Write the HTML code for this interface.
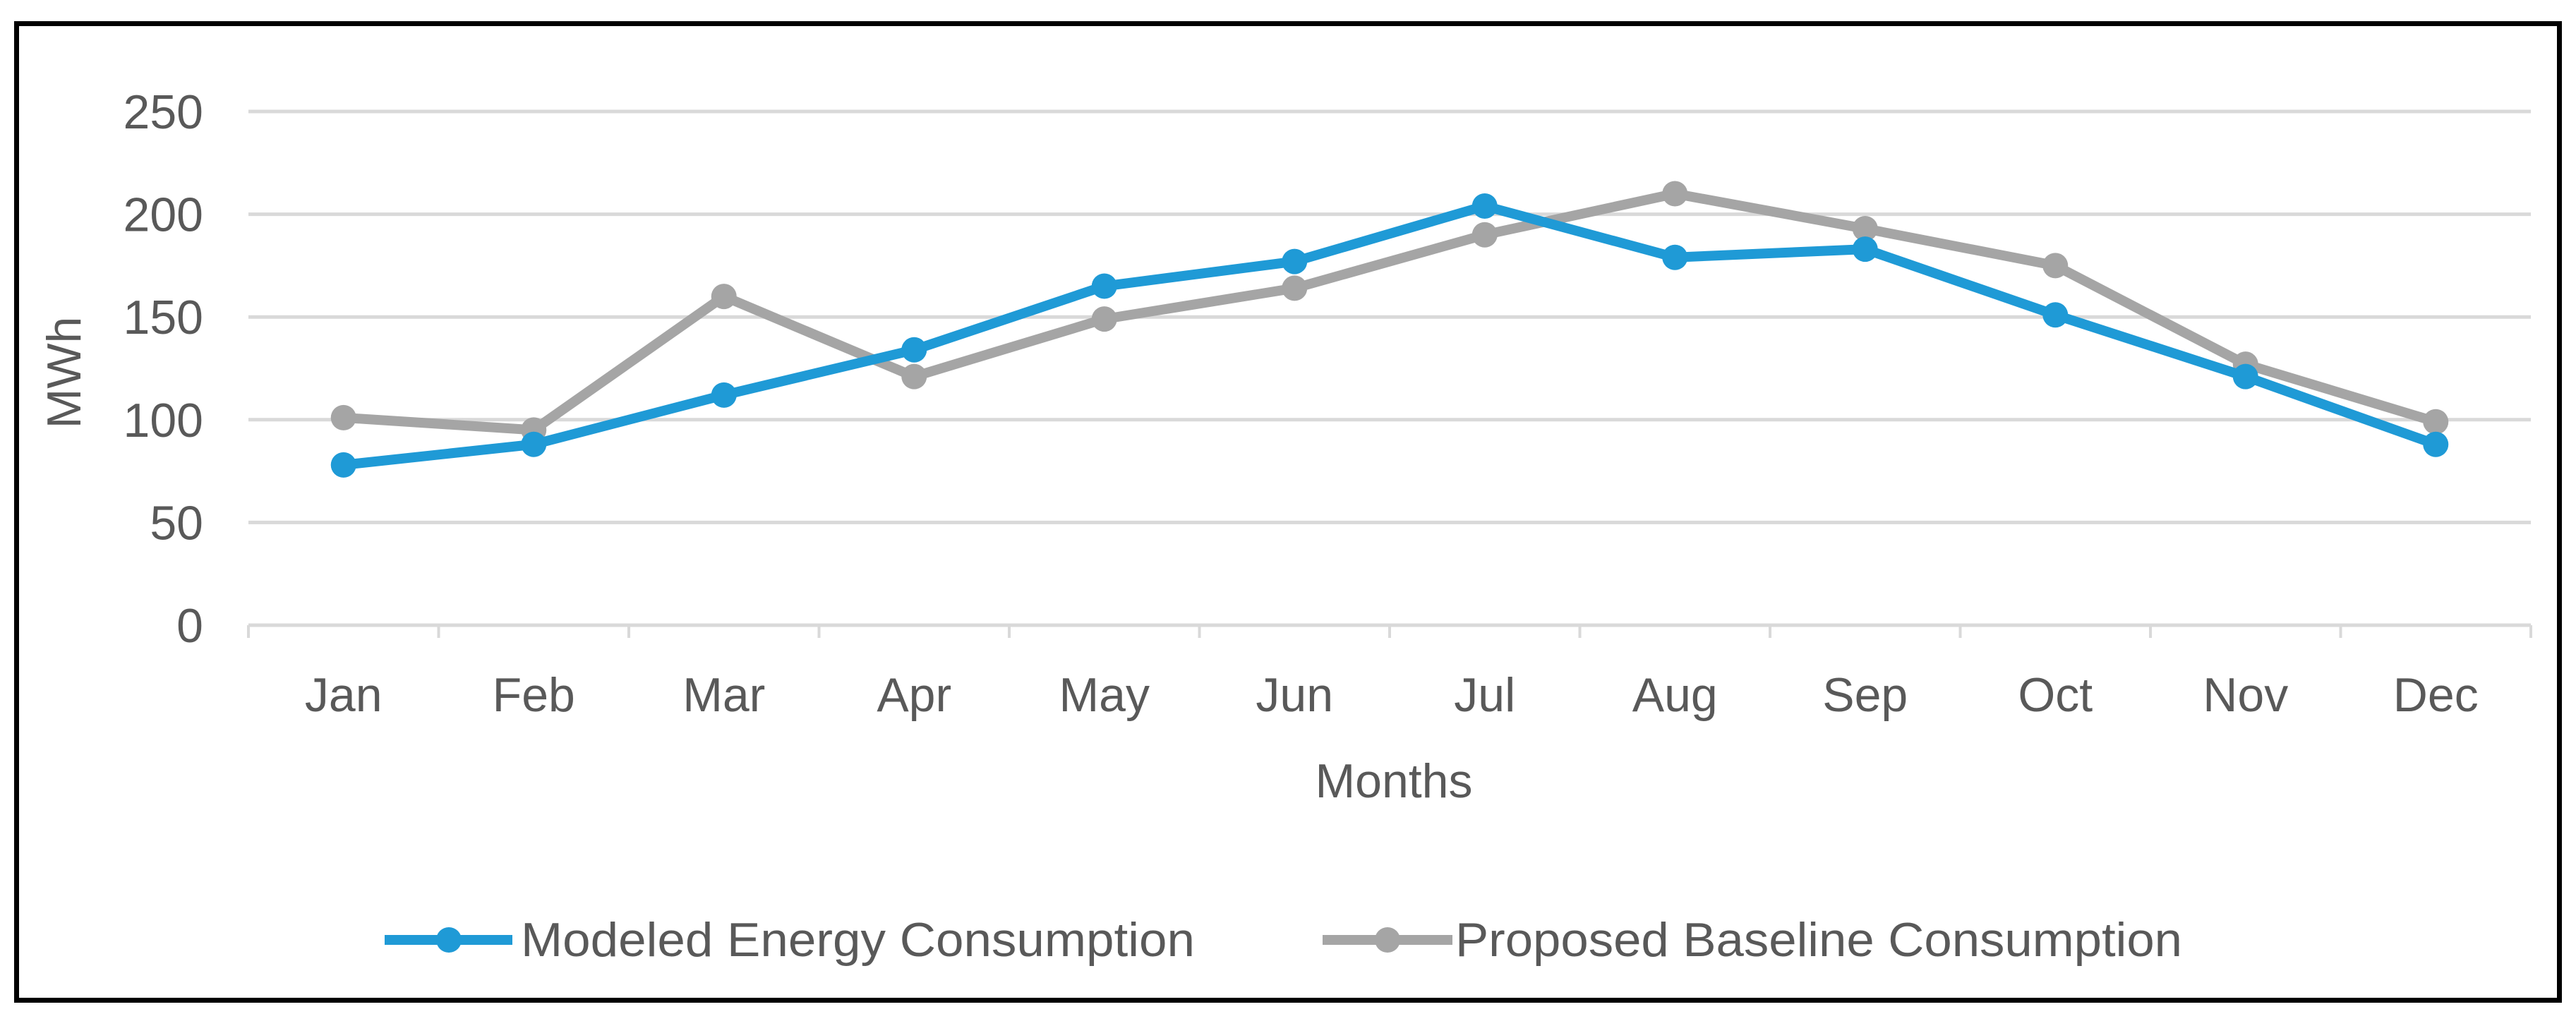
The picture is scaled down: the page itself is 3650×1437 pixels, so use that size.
<!DOCTYPE html>
<html><head><meta charset="utf-8"><style>
html,body{margin:0;padding:0;background:#fff;}
svg{display:block;}
text{font-family:"Liberation Sans",sans-serif;fill:#595959;}
</style></head><body>
<svg id="chart" width="3650" height="1437" viewBox="0 0 3650 1437">
<rect x="23.5" y="33.5" width="3603" height="1384" fill="#fff" stroke="#000" stroke-width="7"/>
<g id="grid"></g><g id="axes"></g><g id="series"></g>
<text transform="translate(114,528) rotate(-90)" text-anchor="middle" font-size="68">MWh</text>
<text x="1975" y="1130" text-anchor="middle" font-size="68">Months</text>
<g>
<g>
<line x1="545" y1="1332" x2="726" y2="1332" stroke="#1f9ad6" stroke-width="14"/>
<circle cx="636" cy="1332" r="18" fill="#1f9ad6"/>
<text x="738" y="1355" font-size="68" textLength="955" lengthAdjust="spacingAndGlyphs">Modeled Energy Consumption</text>
</g>
<g>
<line x1="1874" y1="1332" x2="2058" y2="1332" stroke="#a5a5a5" stroke-width="14"/>
<circle cx="1966" cy="1332" r="18" fill="#a5a5a5"/>
<text x="2062" y="1355" font-size="68" textLength="1030" lengthAdjust="spacingAndGlyphs">Proposed Baseline Consumption</text>
</g>
</g>
</svg>
<script>
const categories = ["Jan","Feb","Mar","Apr","May","Jun","Jul","Aug","Sep","Oct","Nov","Dec"];
const modeled = [78, 88, 112, 134, 165, 177, 204, 179, 183, 151, 121, 88];
const baseline = [101, 95, 160, 121, 149, 164, 190, 210, 193, 175, 127, 99];
const yTicks = [0, 50, 100, 150, 200, 250];

const NS = "http://www.w3.org/2000/svg";
const X0 = 352, X1 = 3586, Y0 = 886, Y250 = 158;
const band = (X1 - X0) / categories.length;
const xPos = i => X0 + band * (i + 0.5);
const yPos = v => Y0 - (v / 250) * (Y0 - Y250);
function mk(tag, attrs, parent){const e=document.createElementNS(NS,tag);for(const k in attrs)e.setAttribute(k,attrs[k]);parent.appendChild(e);return e;}
const grid=document.getElementById('grid'), axes=document.getElementById('axes'), ser=document.getElementById('series');
yTicks.forEach(v=>{
  const y=yPos(v);
  if(v>0){const l=mk('line',{x1:X0,x2:X1,y1:y,y2:y,stroke:'#d9d9d9','stroke-width':5},grid);
    
    }
  const t=mk('text',{x:288,y:y+24,'text-anchor':'end','font-size':68},axes);
  t.textContent=v;
  
  
});
const ax=mk('line',{x1:X0,x2:X1,y1:Y0,y2:Y0,stroke:'#d9d9d9','stroke-width':5},axes);


for(let i=0;i<=categories.length;i++){
  const x=X0+band*i;
  const tk=mk('line',{x1:x,x2:x,y1:Y0,y2:Y0+18,stroke:'#d9d9d9','stroke-width':4},axes);
  
  
}
categories.forEach((c,i)=>{
  const t=mk('text',{x:xPos(i),y:1008,'text-anchor':'middle','font-size':68},axes);
  t.textContent=c;
  
  
});
function drawSeries(vals,color,name){
  const g=mk('g',{},ser);
  
  
  const pl=mk('polyline',{points:vals.map((v,i)=>xPos(i)+','+yPos(v)).join(' '),fill:'none',stroke:color,'stroke-width':14,'stroke-linejoin':'round'},g);
  
  
  vals.forEach((v,i)=>{
    const c=mk('circle',{cx:xPos(i),cy:yPos(v),r:18,fill:color},g);
    
    
  });
}
drawSeries(baseline,'#a5a5a5','baseline');
drawSeries(modeled,'#1f9ad6','modeled');
</script>
</body></html>
